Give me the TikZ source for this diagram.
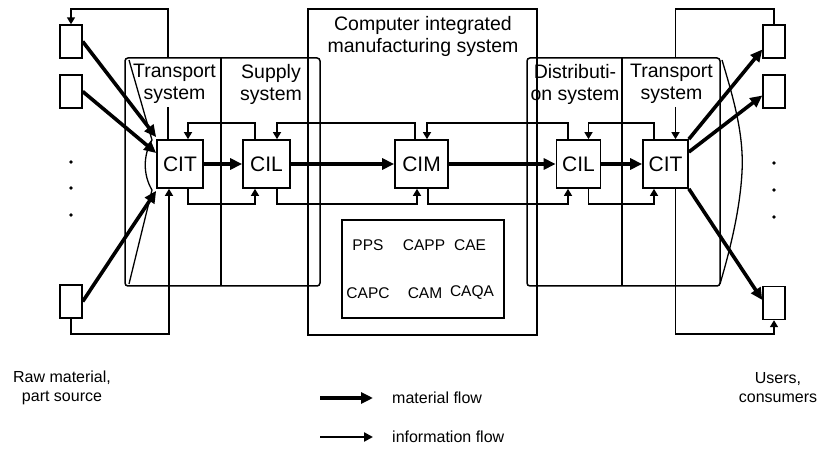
\documentclass[tikz,border=0pt]{standalone}
\usepackage{fontspec}
\setmainfont{Liberation Sans}
\usetikzlibrary{arrows.meta}
\begin{document}
\begin{tikzpicture}[x=1pt,y=-1pt,
  unitbox/.style={draw,line width=1.7pt,minimum width=46pt,minimum height=48pt,inner sep=0pt,font=\fontsize{21}{24}\selectfont},
  endbox/.style={draw,line width=1.4pt,minimum width=22pt,minimum height=33pt,inner sep=0pt},
  frame/.style={line width=1.5pt},
  infoline/.style={line width=1.5pt},
  info/.style={line width=1.5pt,-{Triangle[length=7pt,width=8pt]}},
  mat/.style={line width=3.6pt,-{Triangle[length=12pt,width=11pt]}},
  title/.style={align=center,font=\fontsize{19.5}{22}\selectfont,inner sep=0pt},
  tool/.style={font=\fontsize{15.5}{18}\selectfont,inner sep=0pt},
  legend/.style={font=\fontsize{16}{19}\selectfont,inner sep=0pt},
  dot/.style={fill,circle,inner sep=0pt,minimum size=3.6pt}
]
\useasboundingbox (0,0) rectangle (820,457);

% system frames
\draw[frame,rounded corners=3pt] (125,58) rectangle (320,286);
\draw[frame] (221,58) -- (221,286);
\draw[frame,rounded corners=3pt] (527,58) rectangle (720,286);
\draw[frame] (622,58) -- (622,286);
\draw[frame] (308,9) rectangle (537,335);
\draw[frame] (342,220) rectangle (504,318);

% funnel outlines at the transport systems
\draw[line width=1.3pt] (129,60) -- (152,140) .. controls (143,155) and (143,175) .. (152,190) -- (129,284);
\draw[line width=1.3pt] (722,60) .. controls (734,100) and (744,135) .. (742,172) .. controls (740,210) and (730,250) .. (720,284);

% titles
\node[title] (tTl) at (174.5,84) {Transport\\system};
\node[title] (tSu) at (271,84) {Supply\\system};
\node[title] (tCim) at (423,36) {Computer integrated\\manufacturing system};
\node[title] (tDi) at (575,84) {Distributi-\\on system};
\node[title] (tTr) at (671.5,84) {Transport\\system};

% control units
\node[unitbox] (cit1) at (180,164) {CIT};
\node[unitbox,minimum width=47pt] (cil1) at (266.5,164) {CIL};
\node[unitbox,minimum width=53pt] (cim) at (421.5,164) {CIM};
\node[unitbox,minimum width=44pt] (cil2) at (578.5,164) {CIL};
\node[unitbox,minimum width=45pt] (cit2) at (665.5,164) {CIT};

% sources and users
\node[endbox] (src1) at (71,41.5) {};
\node[endbox] (src2) at (71,91.5) {};
\node[endbox] (src3) at (71,301.5) {};
\node[endbox] (usr1) at (774,41.5) {};
\node[endbox] (usr2) at (774,91.5) {};
\node[endbox] (usr3) at (774,303) {};
\node[dot] (dl1) at (71,162) {};
\node[dot] (dl2) at (71,188) {};
\node[dot] (dl3) at (71,215) {};
\node[dot] (dr1) at (774,163) {};
\node[dot] (dr2) at (774,190) {};
\node[dot] (dr3) at (774,217) {};

% CIM tools
\node[tool] (pps) at (368,245) {PPS};
\node[tool] (capp) at (424,245) {CAPP};
\node[tool] (cae) at (470,245) {CAE};
\node[tool] (capc) at (368,293) {CAPC};
\node[tool] (cam) at (425,293) {CAM};
\node[tool] (caqa) at (472,293) {CAQA};

% rows of the information loops
\coordinate (rowT) at (0,123);
\coordinate (rowB) at (0,204);
\coordinate (lgapB) at (168,107);
\coordinate (lgapT) at (168,58);
\coordinate (ltop) at (168,9);
\coordinate (rgapB) at (675.5,107);
\coordinate (rgapT) at (675.5,58);
\coordinate (rtop) at (675.5,9);
\coordinate (lbot) at (169,334);
\coordinate (rbot) at (675.5,334);

% connection legs on the unit boxes
\coordinate (cit1tR) at ([xshift=8pt]cit1.north);
\coordinate (cit1bR) at ([xshift=8pt]cit1.south);
\coordinate (cil1tL) at ([xshift=-11.5pt]cil1.north);
\coordinate (cil1tR) at ([xshift=10.5pt]cil1.north);
\coordinate (cil1bL) at ([xshift=-11.5pt]cil1.south);
\coordinate (cil1bR) at ([xshift=10.5pt]cil1.south);
\coordinate (cimtL) at ([xshift=-6.5pt]cim.north);
\coordinate (cimtR) at ([xshift=5.5pt]cim.north);
\coordinate (cimbL) at ([xshift=-4.5pt]cim.south);
\coordinate (cimbR) at ([xshift=6.5pt]cim.south);
\coordinate (cil2tL) at ([xshift=-10.5pt]cil2.north);
\coordinate (cil2tR) at ([xshift=10pt]cil2.north);
\coordinate (cil2bL) at ([xshift=-10.5pt]cil2.south);
\coordinate (cil2bR) at ([xshift=10pt]cil2.south);
\coordinate (cit2tL) at ([xshift=-11.5pt]cit2.north);
\coordinate (cit2bL) at ([xshift=-11.5pt]cit2.south);

% information flow, upper loop
\draw[infoline] (cit1.north -| lgapB) -- (lgapB);
\draw[info] (lgapT) -- (ltop) -| (src1.north);
\draw[info] (cil1tL) |- (rowT -| cit1tR) -- (cit1tR);
\draw[info] (cimtL) |- (rowT -| cil1tR) -- (cil1tR);
\draw[info] (cil2tL) |- (rowT -| cimtR) -- (cimtR);
\draw[info] (cit2tL) |- (rowT -| cil2tR) -- (cil2tR);
\draw[infoline] (usr1.north) |- (rtop) -- (rgapT);
\draw[info] (rgapB) -- (cit2.north -| rgapB);

% information flow, lower loop
\draw[info] (src3.south) |- (lbot) -- (cit1.south -| lbot);
\draw[info] (cit1bR) |- (rowB -| cil1bL) -- (cil1bL);
\draw[info] (cil1bR) |- (rowB -| cimbL) -- (cimbL);
\draw[info] (cimbR) |- (rowB -| cil2bL) -- (cil2bL);
\draw[info] (cil2bR) |- (rowB -| cit2bL) -- (cit2bL);
\draw[info] (cit2.south -| rbot) -- (rbot) -| (usr3.south);

% material flow
\draw[mat] (src1.east) -- ([yshift=2pt]cit1.north west);
\draw[mat] (src2.east) -- ([yshift=11pt]cit1.west);
\draw[mat] (src3.east) -- ([yshift=-2pt]cit1.south west);
\draw[mat] (cit1) -- (cil1);
\draw[mat] (cil1) -- (cim);
\draw[mat] (cim) -- (cil2);
\draw[mat] (cil2) -- (cit2);
\draw[mat] (cit2.north east) -- ([yshift=-8pt]usr1.west);
\draw[mat] ([yshift=12pt]cit2.east) -- ([yshift=-4pt]usr2.west);
\draw[mat] (cit2.south east) -- ([yshift=3pt]usr3.west);

% captions
\node[legend,align=center] (rawsrc) at (62,388) {Raw material,\\part source};
\node[legend,align=center] (users) at (778,388) {Users,\\consumers};

% legend
\coordinate (lm0) at (320,398);
\coordinate (lm1) at (373,398);
\coordinate (li0) at (320,437);
\coordinate (li1) at (373,437);
\draw[mat] (lm0) -- (lm1);
\draw[line width=2.4pt,-{Triangle[length=9pt,width=9pt]}] (li0) -- (li1);
\node[legend,anchor=west] (lmat) at (392,398) {material flow};
\node[legend,anchor=west] (linf) at (392,437) {information flow};
\end{tikzpicture}
\end{document}
